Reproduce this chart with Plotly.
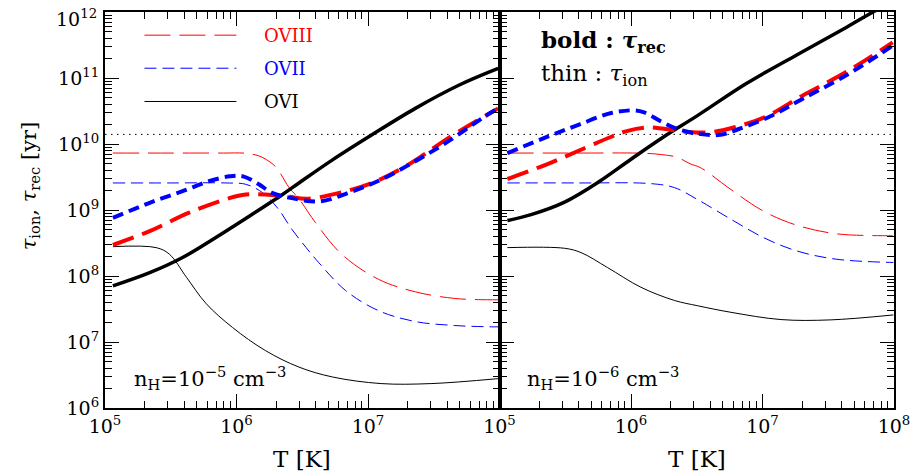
import numpy as np
import plotly.graph_objects as go
from plotly.subplots import make_subplots

# ---------------- data (log10 T [K], log10 tau [yr]) ----------------
# Left panel: n_H = 1e-5 cm^-3
L_OVIII_ion_logT = [5.06, 5.5, 5.9, 6.07, 6.17, 6.23, 6.30, 6.40, 6.475, 6.60, 6.80, 7.08, 7.36, 7.66, 7.91, 7.99]
L_OVIII_ion_logv = [9.863, 9.863, 9.863, 9.86, 9.82, 9.76, 9.65, 9.34, 9.17, 8.81, 8.33, 7.95, 7.76, 7.66, 7.64, 7.64]
L_OVII_ion_logT = [5.06, 5.5, 5.92, 6.07, 6.20, 6.32, 6.42, 6.53, 6.627, 6.83, 7.08, 7.36, 7.66, 7.94, 7.99]
L_OVII_ion_logv = [9.41, 9.41, 9.41, 9.39, 9.26, 9.01, 8.71, 8.43, 8.20, 7.78, 7.475, 7.31, 7.25, 7.23, 7.23]
L_OVI_ion_logT = [5.06, 5.39, 5.49, 5.62, 5.77, 5.97, 6.22, 6.475, 6.73, 7.1, 7.48, 7.99]
L_OVI_ion_logv = [8.445, 8.43, 8.33, 7.98, 7.58, 7.22, 6.87, 6.62, 6.47, 6.37, 6.37, 6.445]
L_OVIII_rec_logT = [5.06, 5.34, 5.64, 5.945, 6.07, 6.22, 6.40, 6.53, 6.75, 7.03, 7.31, 7.61, 7.99]
L_OVIII_rec_logv = [8.47, 8.68, 8.96, 9.18, 9.235, 9.235, 9.20, 9.17, 9.245, 9.41, 9.69, 10.09, 10.54]
L_OVII_rec_logT = [5.06, 5.34, 5.59, 5.79, 5.95, 6.05, 6.17, 6.27, 6.42, 6.63, 6.85, 7.1, 7.36, 7.61, 7.89, 7.99]
L_OVII_rec_logv = [8.88, 9.11, 9.285, 9.436, 9.51, 9.51, 9.39, 9.26, 9.18, 9.13, 9.26, 9.46, 9.74, 10.04, 10.42, 10.54]
L_OVI_rec_logT = [5.06, 5.34, 5.59, 5.84, 6.1, 6.35, 6.475, 6.73, 7.03, 7.36, 7.69, 7.99]
L_OVI_rec_logv = [7.85, 8.05, 8.28, 8.58, 8.91, 9.235, 9.41, 9.76, 10.14, 10.54, 10.89, 11.145]

# Right panel: n_H = 1e-6 cm^-3
R_OVIII_ion_logT = [5.06, 5.6, 6.1, 6.23, 6.35, 6.45, 6.53, 6.76, 7.01, 7.26, 7.56, 7.96, 7.99]
R_OVIII_ion_logv = [9.863, 9.863, 9.86, 9.84, 9.80, 9.70, 9.64, 9.31, 8.98, 8.77, 8.64, 8.61, 8.61]
R_OVII_ion_logT = [5.06, 5.6, 6.15, 6.33, 6.505, 6.76, 7.01, 7.26, 7.56, 7.995]
R_OVII_ion_logv = [9.41, 9.41, 9.40, 9.34, 9.16, 8.86, 8.58, 8.38, 8.255, 8.205]
R_OVI_ion_logT = [5.06, 5.495, 5.62, 5.82, 6.075, 6.33, 6.505, 6.76, 7.14, 7.515, 7.995]
R_OVI_ion_logv = [8.43, 8.42, 8.355, 8.13, 7.83, 7.63, 7.55, 7.45, 7.34, 7.335, 7.41]
R_OVIII_rec_logT = [5.06, 5.37, 5.65, 5.85, 5.975, 6.13, 6.25, 6.455, 6.61, 6.78, 7.01, 7.31, 7.64, 7.99]
R_OVIII_rec_logv = [9.47, 9.70, 9.94, 10.11, 10.20, 10.25, 10.23, 10.18, 10.18, 10.25, 10.40, 10.74, 11.095, 11.54]
R_OVII_rec_logT = [5.06, 5.37, 5.6, 5.85, 6.03, 6.10, 6.23, 6.35, 6.53, 6.68, 6.81, 7.06, 7.31, 7.64, 7.99]
R_OVII_rec_logv = [9.863, 10.115, 10.29, 10.47, 10.51, 10.48, 10.34, 10.23, 10.15, 10.14, 10.22, 10.42, 10.69, 11.045, 11.49]
R_OVI_rec_logT = [5.06, 5.24, 5.495, 5.75, 6.0, 6.25, 6.505, 6.88, 7.26, 7.64, 7.84, 7.95]
R_OVI_rec_logv = [8.84, 8.93, 9.12, 9.42, 9.77, 10.11, 10.43, 10.92, 11.35, 11.77, 12.0, 12.12]

HUBBLE_TIME = 1.4e10  # dotted line [yr]

x_tick_left = [1e5, 1e6, 1e7]
x_tick_left_text = ["10<sup>5</sup>", "10<sup>6</sup>", "10<sup>7</sup>"]
x_tick_right = [1e5, 1e6, 1e7, 1e8]
x_tick_right_text = ["10<sup>5</sup>", "10<sup>6</sup>", "10<sup>7</sup>", "10<sup>8</sup>"]
y_tick_vals = [1e6, 1e7, 1e8, 1e9, 1e10, 1e11, 1e12]
y_tick_text = ["10<sup>6</sup>", "10<sup>7</sup>", "10<sup>8</sup>", "10<sup>9</sup>",
               "10<sup>10</sup>", "10<sup>11</sup>", ""]
y_top_label = "10<sup>12</sup>"

# ---------------- styles ----------------
RED = "#ff0000"
BLUE = "#0000ff"
BLACK = "#000000"
DASH_RED = "26px,9px"
DASH_BLUE = "12px,6px"
DASH_RED_THICK = "22px,9px"
DASH_BLUE_THICK = "11px,6px"
FONT = "DejaVu Serif"

fig = make_subplots(rows=1, cols=2, shared_yaxes=True, horizontal_spacing=0)


def add(col, lt, lv, color, width, dash):
    fig.add_trace(go.Scatter(x=10 ** np.array(lt), y=10 ** np.array(lv), mode="lines",
                             line=dict(color=color, width=width, dash=dash, shape="spline", smoothing=1.0),
                             showlegend=False, hoverinfo="skip"), row=1, col=col)


for col, P in [(1, "L"), (2, "R")]:
    g = globals()
    fig.add_trace(go.Scatter(x=[1e5, 1e8], y=[HUBBLE_TIME, HUBBLE_TIME], mode="lines",
                             line=dict(color=BLACK, width=1, dash="1.5px,4.5px"),
                             showlegend=False, hoverinfo="skip"), row=1, col=col)
    add(col, g[P + "_OVI_ion_logT"], g[P + "_OVI_ion_logv"], BLACK, 1, "solid")
    add(col, g[P + "_OVII_ion_logT"], g[P + "_OVII_ion_logv"], BLUE, 1, DASH_BLUE)
    add(col, g[P + "_OVIII_ion_logT"], g[P + "_OVIII_ion_logv"], RED, 1, DASH_RED)
    add(col, g[P + "_OVI_rec_logT"], g[P + "_OVI_rec_logv"], BLACK, 3.5, "solid")
    add(col, g[P + "_OVIII_rec_logT"], g[P + "_OVIII_rec_logv"], RED, 4, DASH_RED_THICK)
    add(col, g[P + "_OVII_rec_logT"], g[P + "_OVII_rec_logv"], BLUE, 4, DASH_BLUE_THICK)

minor_x = [m * 10 ** d for d in range(5, 8) for m in range(2, 10)]
minor_y = [m * 10 ** d for d in range(6, 12) for m in range(2, 10)]

axis_common = dict(type="log", showgrid=False, zeroline=False, showline=True, linecolor="black",
                   linewidth=2, mirror="allticks", ticks="inside", tickcolor="black", tickwidth=1,
                   tickfont=dict(family=FONT, size=19, color="black"))

fig.update_xaxes(**axis_common, range=[5, 8], ticklen=14,
                 minor=dict(tickvals=minor_x, ticks="inside", ticklen=7, tickcolor="black", tickwidth=1))
fig.update_xaxes(tickvals=x_tick_left, ticktext=x_tick_left_text, row=1, col=1)
fig.update_xaxes(tickvals=x_tick_right, ticktext=x_tick_right_text, row=1, col=2)
fig.update_yaxes(**axis_common, range=[6, 12.0005], ticklen=14, tickvals=y_tick_vals, ticktext=y_tick_text,
                 minor=dict(tickvals=minor_y, ticks="inside", ticklen=7, tickcolor="black", tickwidth=1))
fig.update_yaxes(showticklabels=False, row=1, col=2)

# top y tick label (placed as text so it is not dropped at the figure edge)
fig.add_annotation(xref="paper", yref="paper", x=-0.0095, y=1.0 + 7.0 / 398, text=y_top_label,
                   showarrow=False, xanchor="right", yanchor="top", borderpad=0,
                   font=dict(family=FONT, size=19, color="black"))

# legend (drawn in the left panel)
legend_items = [("OVIII", RED, DASH_RED, 0.9415), ("OVII", BLUE, DASH_BLUE, 0.858), ("OVI", BLACK, "solid", 0.774)]
for name, color, dash, yy in legend_items:
    fig.add_shape(type="line", xref="x domain", yref="y domain", x0=0.100, x1=0.333, y0=yy, y1=yy,
                  line=dict(color=color, width=1, dash=dash))
    fig.add_annotation(xref="x domain", yref="y domain", x=0.398, y=yy, text=name, showarrow=False,
                       xanchor="left", yanchor="middle", font=dict(family=FONT, size=18, color=color))

fig.add_annotation(xref="x domain", yref="y domain", x=0.068, y=0.075,
                   text="n<sub>H</sub>=10<sup>−5</sup> cm<sup>−3</sup>", showarrow=False,
                   xanchor="left", yanchor="middle", font=dict(family=FONT, size=21, color="black"))
fig.add_annotation(xref="x2 domain", yref="y2 domain", x=0.065, y=0.075,
                   text="n<sub>H</sub>=10<sup>−6</sup> cm<sup>−3</sup>", showarrow=False,
                   xanchor="left", yanchor="middle", font=dict(family=FONT, size=21, color="black"))
fig.add_annotation(xref="x2 domain", yref="y2 domain", x=0.10, y=0.926,
                   text="<b>bold : <i>τ</i><sub>rec</sub></b>", showarrow=False,
                   xanchor="left", yanchor="middle", font=dict(family=FONT, size=23, color="black"))
fig.add_annotation(xref="x2 domain", yref="y2 domain", x=0.10, y=0.842,
                   text="thin : <i>τ</i><sub>ion</sub>", showarrow=False,
                   xanchor="left", yanchor="middle", font=dict(family=FONT, size=23, color="black"))

# axis titles
for xc in [0.25, 0.75]:
    fig.add_annotation(xref="paper", yref="paper", x=xc, y=-0.13, text="T [K]", showarrow=False,
                       xanchor="center", yanchor="middle", font=dict(family=FONT, size=23, color="black"))
fig.add_annotation(xref="paper", yref="paper", x=-0.095, y=0.56, textangle=-90,
                   text="<i>τ</i><sub>ion</sub>, <i>τ</i><sub>rec</sub> [yr]", showarrow=False,
                   xanchor="center", yanchor="middle", font=dict(family=FONT, size=21, color="black"))

fig.update_layout(width=920, height=476, margin=dict(l=105, r=22, t=10, b=68),
                  paper_bgcolor="white", plot_bgcolor="white", showlegend=False)

fig.write_html("out.html", config={"displayModeBar": False},
               post_script="document.body.style.margin='0';document.body.style.overflow='hidden';")
